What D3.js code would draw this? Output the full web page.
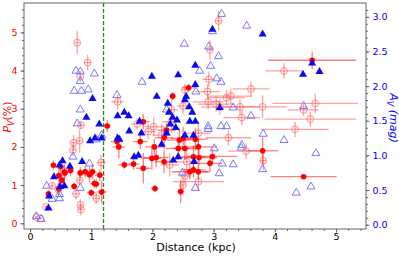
<!DOCTYPE html>
<html>
<head>
<meta charset="utf-8">
<script src="https://cdn.jsdelivr.net/npm/d3@7"></script>
<style>
  body { margin: 0; background: #fff; }
  text { font-family: "DejaVu Sans", sans-serif; }
</style>
</head>
<body>
<svg id="chart" width="399" height="257"></svg>
<script>
// [distance kpc, Pv %, distance err, Pv err]
var pvFilled = [
  [0.30,0.77,0.03,0.10],[0.38,1.52,0.03,0.12],[0.47,1.25,0.04,0.25],[0.47,0.90,0.04,0.15],
  [0.50,1.48,0.04,0.15],[0.52,1.13,0.04,0.20],[0.56,1.35,0.05,0.20],[0.57,1.32,0.05,0.15],
  [0.66,1.38,0.05,0.15],[0.72,0.97,0.05,0.10],[0.82,1.32,0.06,0.15],[0.90,1.35,0.06,0.15],
  [0.97,1.27,0.07,0.20],[1.02,1.35,0.07,0.20],[1.05,1.04,0.07,0.12],[1.08,1.03,0.07,0.12],
  [1.00,0.80,0.07,0.10],[1.14,1.26,0.08,0.15],[1.17,0.82,0.08,0.30],[1.26,2.55,0.06,0.15],
  [1.42,2.14,0.10,0.20],[1.45,2.00,0.10,0.30],[1.54,1.53,0.10,0.10],[1.69,1.55,0.10,0.15],
  [1.80,2.14,0.12,0.20],[1.85,1.44,0.12,0.40],[1.85,2.66,0.10,0.20],[1.99,1.70,0.15,0.30],
  [2.03,2.00,0.15,0.20],[2.04,0.91,0.06,0.10],[2.06,1.72,0.20,0.25],[2.19,2.24,0.15,0.30],
  [2.19,1.61,0.15,0.30],[2.23,2.44,0.15,0.20],[2.33,3.33,0.05,0.10],[2.42,1.96,0.20,0.30],
  [2.44,2.18,0.20,0.30],[2.46,0.83,0.05,0.30],[2.50,2.22,0.20,0.30],[2.53,1.96,0.20,0.30],
  [2.59,3.55,0.10,0.10],[2.61,1.35,0.30,0.20],[2.67,1.74,0.20,0.30],[2.67,1.40,0.20,0.20],
  [2.70,2.20,0.20,0.30],[2.75,2.00,0.30,0.20],[2.75,1.35,0.20,0.20],[2.76,1.72,0.30,0.20],
  [2.94,1.57,0.20,0.20],[2.98,1.75,0.40,0.20],[3.80,1.90,0.25,0.35],[4.47,1.22,0.54,0.05],
  [4.61,4.27,0.72,0.23]
];
var pvOpen = [
  [0.10,0.16,0.02,0.03],[0.17,0.13,0.02,0.03],[0.26,0.43,0.03,0.05],[0.36,0.98,0.03,0.10],
  [0.46,0.89,0.04,0.15],[0.70,1.92,0.04,0.15],[0.71,2.11,0.04,0.20],[0.75,0.77,0.06,0.15],
  [0.77,4.73,0.04,0.30],[0.81,2.16,0.05,0.30],[0.81,1.13,0.05,0.10],[0.82,3.84,0.03,0.15],
  [0.82,0.48,0.04,0.15],[0.83,0.36,0.04,0.15],[0.83,2.57,0.05,0.10],[0.94,4.21,0.06,0.20],
  [1.08,0.65,0.06,0.15],[1.16,1.59,0.07,0.20],[1.43,3.18,0.10,0.20],[1.75,2.60,0.10,0.15],
  [1.93,2.40,0.12,0.20],[2.02,2.53,0.15,0.25],[2.15,2.31,0.15,0.30],[2.28,1.53,0.15,0.30],
  [2.31,2.97,0.10,0.30],[2.31,2.66,0.15,0.30],[2.50,3.07,0.10,0.20],[2.50,1.00,0.05,0.25],
  [2.53,3.50,0.05,0.15],[2.53,1.24,0.10,0.20],[2.56,1.61,0.20,0.30],[2.75,2.36,0.20,0.30],
  [2.75,1.09,0.42,0.25],[2.90,3.45,0.20,0.20],[2.91,3.18,0.25,0.20],[2.92,3.77,0.10,0.20],
  [2.94,4.54,0.05,0.25],[3.04,3.12,0.30,0.20],[3.08,5.30,0.05,0.25],[3.10,3.04,0.30,0.20],
  [3.21,3.29,0.30,0.20],[3.24,2.24,0.37,0.20],[3.28,3.33,0.35,0.20],[3.43,3.05,0.30,0.20],
  [3.46,2.77,0.30,0.20],[3.53,1.89,0.30,0.20],[3.61,3.52,0.30,0.20],[3.80,3.05,0.40,0.30],
  [3.81,1.64,0.05,0.25],[4.15,3.99,0.30,0.20],[4.33,2.46,0.55,0.20],[4.47,2.97,0.25,0.15],
  [4.58,2.73,0.75,0.20],[4.66,3.14,0.70,0.25]
];
// [distance kpc, Av mag]
var avFilled = [
  [0.30,0.24],[0.31,0.41],[0.39,0.69],[0.48,0.86],[0.49,0.55],[0.53,0.92],[0.56,0.56],[0.65,0.84],
  [0.85,0.91],[0.92,1.55],[0.98,1.21],[1.02,1.82],[1.06,1.25],[1.13,1.45],[1.17,1.25],[1.43,1.57],
  [1.43,1.25],[1.46,1.23],[1.54,1.62],[1.62,1.35],[1.61,1.57],[1.70,0.98],[1.77,1.00],[1.79,1.49],
  [1.82,1.32],[1.99,2.14],[2.07,1.85],[2.15,1.16],[2.23,1.32],[2.25,1.75],[2.27,1.62],[2.29,1.45],
  [2.33,1.55],[2.34,0.93],[2.38,1.40],[2.40,1.51],[2.42,2.16],[2.42,0.98],[2.53,1.80],[2.53,1.29],
  [2.55,1.85],[2.60,1.70],[2.61,1.49],[2.65,1.62],[2.67,1.29],[2.68,0.91],[2.70,2.30],[2.70,2.02],
  [2.70,1.49],[2.98,2.82],[3.10,1.69],[3.80,2.75],[4.46,2.17],[4.61,2.33],[4.73,2.21]
];
var avOpen = [
  [0.10,0.12],[0.18,0.08],[0.27,0.56],[0.36,0.37],[0.48,0.44],[0.48,0.38],[0.70,0.98],[0.72,1.93],
  [0.75,2.22],[0.77,1.46],[0.82,2.21],[0.82,2.07],[0.82,1.66],[0.82,0.53],[0.84,1.93],[0.95,1.95],
  [0.97,0.88],[1.05,2.18],[1.08,1.23],[1.17,1.29],[1.42,1.87],[1.83,2.06],[2.23,1.66],[2.49,0.75],
  [2.52,2.61],[2.70,0.53],[2.71,1.92],[2.77,2.22],[2.91,1.42],[2.91,1.38],[2.92,2.57],[2.95,2.29],
  [2.98,2.79],[3.01,1.10],[3.05,2.11],[3.08,2.43],[3.09,0.74],[3.12,2.06],[3.12,1.42],[3.13,3.04],
  [3.14,0.88],[3.21,1.42],[3.32,1.69],[3.32,0.87],[3.45,1.11],[3.46,1.15],[3.54,2.87],[3.61,1.57],
  [3.80,0.80],[3.81,1.31],[4.15,1.22],[4.35,0.46],[4.47,1.71],[4.59,0.55],[4.67,1.03]
];
var xTicks = [0, 1, 2, 3, 4, 5];
var pvTicks = [0, 1, 2, 3, 4, 5];
var avTicks = [0.0, 0.5, 1.0, 1.5, 2.0, 2.5, 3.0];
var cutDist = 1.2;

var svg = d3.select("#chart");
var mL = 24, mR = 366, mT = 3, mB = 229;

var x = d3.scaleLinear().domain([-0.1, 5.49]).range([mL, mR]);
var yP = d3.scaleLinear().domain([-0.15, 5.77]).range([mB, mT]);
var yA = d3.scaleLinear().domain([-0.062, 3.2]).range([mB, mT]);

svg.append("defs").append("clipPath").attr("id", "clip")
  .append("rect").attr("x", mL).attr("y", mT).attr("width", mR - mL).attr("height", mB - mT);
var plot = svg.append("g").attr("clip-path", "url(#clip)");

// dashed distance cut
plot.append("line")
  .attr("x1", x(cutDist)).attr("x2", x(cutDist))
  .attr("y1", mT).attr("y2", mB)
  .attr("stroke", "#1e8c1e").attr("stroke-width", 1.3)
  .attr("stroke-dasharray", "4,2");

function errorBars(data, color, op) {
  var g = plot.append("g").attr("stroke", color).attr("stroke-opacity", op).attr("stroke-width", 1.3);
  g.selectAll(".ex").data(data).enter().append("line")
    .attr("x1", function(d) { return x(d[0] - d[2]); })
    .attr("x2", function(d) { return x(d[0] + d[2]); })
    .attr("y1", function(d) { return yP(d[1]); })
    .attr("y2", function(d) { return yP(d[1]); });
  g.selectAll(".ey").data(data).enter().append("line")
    .attr("x1", function(d) { return x(d[0]); })
    .attr("x2", function(d) { return x(d[0]); })
    .attr("y1", function(d) { return yP(d[1] - d[3]); })
    .attr("y2", function(d) { return yP(d[1] + d[3]); });
}

errorBars(pvOpen, "#ff3030", 0.45);
plot.append("g").selectAll("circle").data(pvOpen).enter().append("circle")
  .attr("cx", function(d) { return x(d[0]); })
  .attr("cy", function(d) { return yP(d[1]); })
  .attr("r", 3.4)
  .attr("fill", "none").attr("stroke", "#ff6060").attr("stroke-opacity", 0.7).attr("stroke-width", 1);

errorBars(pvFilled, "#ff0000", 0.5);
plot.append("g").selectAll("circle").data(pvFilled).enter().append("circle")
  .attr("cx", function(d) { return x(d[0]); })
  .attr("cy", function(d) { return yP(d[1]); })
  .attr("r", 2.8)
  .attr("fill", "#ff0000");

var tri = d3.symbol().type(d3.symbolTriangle).size(28);
plot.append("g").selectAll("path").data(avOpen).enter().append("path")
  .attr("d", tri)
  .attr("transform", function(d) { return "translate(" + x(d[0]) + "," + yA(d[1]) + ")"; })
  .attr("fill", "none").attr("stroke", "#6a6aff").attr("stroke-width", 0.9);

plot.append("g").selectAll("path").data(avFilled).enter().append("path")
  .attr("d", tri)
  .attr("transform", function(d) { return "translate(" + x(d[0]) + "," + yA(d[1]) + ")"; })
  .attr("fill", "#0a0af0");

// axes
var axColor = "#666";
function styleAxis(g, labelColor) {
  g.selectAll(".domain").remove();
  g.selectAll("line").attr("stroke", axColor);
  g.selectAll("text").attr("fill", labelColor).style("font-size", "9.5px");
}

var xa = svg.append("g").attr("transform", "translate(0," + mB + ")");
xa.append("g").call(d3.axisBottom(x).tickValues(d3.range(0, 5.41, 0.2)).tickSize(2).tickFormat(""));
xa.append("g").call(d3.axisBottom(x).tickValues(xTicks).tickSize(3.5).tickPadding(0.5).tickFormat(d3.format("d")));
styleAxis(xa, "#000");

var la = svg.append("g").attr("transform", "translate(" + mL + ",0)");
la.append("g").call(d3.axisLeft(yP).tickValues(d3.range(0, 5.61, 0.2)).tickSize(2).tickFormat(""));
la.append("g").call(d3.axisLeft(yP).tickValues(pvTicks).tickSize(3.5).tickPadding(3).tickFormat(d3.format("d")));
styleAxis(la, "#ff0000");

var ra = svg.append("g").attr("transform", "translate(" + mR + ",0)");
ra.append("g").call(d3.axisRight(yA).tickValues(d3.range(0, 3.151, 0.1)).tickSize(2).tickFormat(""));
ra.append("g").call(d3.axisRight(yA).tickValues(avTicks).tickSize(3.5).tickPadding(3).tickFormat(d3.format(".1f")));
styleAxis(ra, "#0000ff");

svg.append("rect")
  .attr("x", mL).attr("y", mT).attr("width", mR - mL).attr("height", mB - mT)
  .attr("fill", "none").attr("stroke", axColor).attr("stroke-width", 1);

svg.append("text")
  .attr("x", (mL + mR) / 2 + 1).attr("y", 251)
  .attr("text-anchor", "middle").style("font-size", "11px")
  .text("Distance (kpc)");

var pl = svg.append("text")
  .attr("transform", "translate(11,117) rotate(-90)")
  .attr("text-anchor", "middle").attr("fill", "#ff0000").style("font-size", "11px");
pl.append("tspan").style("font-style", "italic").text("P");
pl.append("tspan").style("font-style", "italic").style("font-size", "8px").attr("dy", 3).text("V");
pl.append("tspan").attr("dy", -3).text("(%)");

var al = svg.append("text")
  .attr("transform", "translate(390,118) rotate(90)")
  .attr("text-anchor", "middle").attr("fill", "#0000ff").style("font-size", "11px")
  .style("font-style", "italic");
al.append("tspan").text("A");
al.append("tspan").style("font-size", "8px").attr("dy", 3).text("V");
al.append("tspan").attr("dy", -3).text(" (mag)");
</script>
</body>
</html>
